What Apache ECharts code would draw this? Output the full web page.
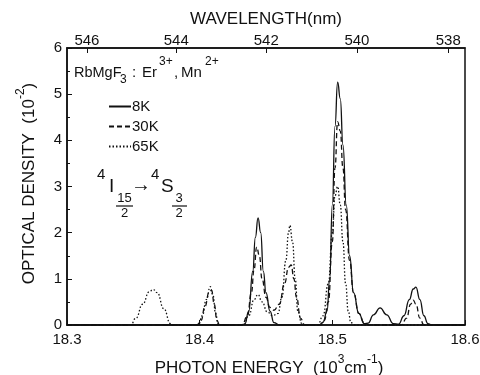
<!DOCTYPE html>
<html>
<head>
<meta charset="utf-8">
<script src="https://cdn.jsdelivr.net/npm/echarts@6/dist/echarts.min.js"></script>
<style>
  html, body { margin: 0; padding: 0; background: #fff; }
  #chart { width: 480px; height: 375px; }
</style>
</head>
<body>
<div id="chart"></div>
<script>
// photon energy (10^3 cm^-1) vs optical density (10^-2)
const energyTicks = [18.3, 18.4, 18.5, 18.6];
const wavelengthTicks = [546, 544, 542, 540, 538];
const odTicks = [0, 1, 2, 3, 4, 5, 6];

const names = ["8K", "30K", "65K"];

const k8 = [
  [18.30, 0], [18.430, 0], [18.434, 0.02], [18.437, 0.3], [18.440, 1.16], [18.442, 1.9],
  [18.444, 2.32], [18.446, 2.0], [18.448, 1.16], [18.450, 0.7], [18.453, 0.3], [18.456, 0.05],
  [18.460, 0], [18.490, 0], [18.493, 0.06], [18.496, 0.3], [18.498, 1.0], [18.500, 2.6],
  [18.502, 4.3], [18.504, 5.26], [18.506, 4.9], [18.508, 3.9], [18.5105, 2.6], [18.513, 1.5],
  [18.516, 0.7], [18.520, 0.25], [18.524, 0.03], [18.527, 0.04], [18.531, 0.22], [18.536, 0.37],
  [18.541, 0.22], [18.546, 0.03], [18.550, 0.02], [18.554, 0.2], [18.558, 0.55], [18.561, 0.78],
  [18.563, 0.82], [18.566, 0.55], [18.569, 0.2], [18.572, 0.03], [18.575, 0], [18.60, 0]
];

const k30 = [
  [18.30, 0], [18.398, 0], [18.401, 0.1], [18.404, 0.4], [18.407, 0.7], [18.409, 0.75],
  [18.411, 0.45], [18.413, 0.1], [18.415, 0], [18.432, 0], [18.436, 0.2], [18.439, 0.7],
  [18.441, 1.2], [18.443, 1.69], [18.445, 1.5], [18.447, 1.0], [18.450, 0.6], [18.453, 0.38],
  [18.456, 0.32], [18.460, 0.45], [18.464, 0.9], [18.467, 1.25], [18.469, 1.3], [18.471, 1.0],
  [18.473, 0.6], [18.476, 0.15], [18.479, 0], [18.491, 0], [18.494, 0.1], [18.497, 0.5],
  [18.500, 1.8], [18.502, 3.4], [18.504, 4.4], [18.506, 4.2], [18.508, 3.4], [18.510, 2.5],
  [18.513, 1.4], [18.516, 0.7], [18.520, 0.25], [18.524, 0.05], [18.528, 0], [18.552, 0],
  [18.556, 0.15], [18.559, 0.45], [18.561, 0.54], [18.563, 0.45], [18.566, 0.15], [18.569, 0],
  [18.60, 0]
];

const k65 = [
  [18.30, 0], [18.348, 0], [18.352, 0.15], [18.357, 0.45], [18.362, 0.72], [18.365, 0.77],
  [18.368, 0.7], [18.373, 0.35], [18.378, 0.03], [18.380, 0], [18.399, 0], [18.402, 0.2],
  [18.405, 0.55], [18.408, 0.83], [18.410, 0.65], [18.412, 0.25], [18.414, 0], [18.433, 0],
  [18.437, 0.2], [18.441, 0.55], [18.444, 0.66], [18.447, 0.5], [18.451, 0.28], [18.455, 0.2],
  [18.459, 0.25], [18.462, 0.6], [18.465, 1.4], [18.467, 2.0], [18.468, 2.16], [18.470, 1.8],
  [18.472, 1.0], [18.474, 0.3], [18.477, 0.03], [18.480, 0], [18.489, 0], [18.493, 0.2],
  [18.497, 0.9], [18.500, 2.0], [18.502, 2.8], [18.504, 3.0], [18.506, 2.6], [18.508, 1.8],
  [18.510, 0.9], [18.512, 0.3], [18.514, 0.05], [18.517, 0], [18.60, 0]
];

const ink = "#111";
const font = "Liberation Sans, Arial, sans-serif";

const chart = echarts.init(document.getElementById("chart"));

function txt(x, y, text, size, align) {
  return {
    type: "text", x: x, y: y, silent: true,
    style: { text: text, fill: ink, font: size + "px " + font, textAlign: align || "left", textVerticalAlign: "middle" }
  };
}
function bar(x1, x2, y) {
  return { type: "line", silent: true, shape: { x1: x1, y1: y, x2: x2, y2: y }, style: { stroke: ink, lineWidth: 1.2 } };
}

const supRich = {
  a: { fontSize: 17, fontFamily: font, color: ink, lineHeight: 23, verticalAlign: "bottom" },
  s: { fontSize: 12, fontFamily: font, color: ink, verticalAlign: "top" }
};

chart.setOption({
  backgroundColor: "#fff",
  animation: false,
  grid: {
    left: 67, right: 15, top: 48, bottom: 50, outerBoundsMode: "none", containLabel: false,
    show: true, borderColor: ink, borderWidth: 1.5
  },
  legend: {
    data: names,
    orient: "vertical",
    left: 103,
    top: 94,
    itemWidth: 22,
    itemHeight: 14,
    itemGap: 5,
    itemStyle: { opacity: 0 },
    textStyle: { fontSize: 15, fontFamily: font, color: ink, padding: [0, 0, 0, -4] }
  },
  xAxis: [
    {
      type: "value", min: energyTicks[0], max: energyTicks[energyTicks.length - 1], interval: 0.1,
      position: "bottom",
      name: "{a|PHOTON ENERGY  (10}{s|3}{a|cm}{s|-1}{a|)}",
      nameLocation: "middle", nameGap: 29,
      nameTextStyle: { rich: supRich, padding: [0, 0, 0, 6] },
      axisLine: { lineStyle: { color: ink, width: 1.5 } },
      axisTick: { inside: true, length: 5, lineStyle: { color: ink } },
      axisLabel: { margin: 7, fontSize: 15, fontFamily: font, color: ink, formatter: v => v.toFixed(1) },
      splitLine: { show: false }
    },
    {
      type: "value", min: energyTicks[0], max: energyTicks[energyTicks.length - 1],
      position: "top",
      name: "WAVELENGTH(nm)",
      nameLocation: "middle", nameGap: 19,
      nameTextStyle: { fontSize: 17, fontFamily: font, color: ink },
      axisLine: { lineStyle: { color: ink, width: 1.5 } },
      axisTick: { inside: true, length: 5, lineStyle: { color: ink }, customValues: wavelengthTicks.map(w => 1e4 / w) },
      axisLabel: {
        margin: 0, fontSize: 15, fontFamily: font, color: ink,
        customValues: wavelengthTicks.map(w => 1e4 / w),
        formatter: v => String(Math.round(1e4 / v))
      },
      splitLine: { show: false }
    }
  ],
  yAxis: {
    type: "value", min: odTicks[0], max: odTicks[odTicks.length - 1], interval: 1,
    name: "{a|OPTICAL DENSITY  (10}{s|-2}{a|)}",
    nameLocation: "middle", nameGap: 29,
    nameTextStyle: { rich: supRich, padding: [0, 0, 0, 6] },
    axisLine: { show: true, lineStyle: { color: ink, width: 1.5 } },
    axisTick: { inside: true, length: 5, lineStyle: { color: ink } },
    minorTick: { show: true, splitNumber: 2, length: 3, lineStyle: { color: ink } },
    axisLabel: { margin: 5, fontSize: 15, fontFamily: font, color: ink },
    splitLine: { show: false }
  },
  series: [
    { name: names[0], type: "line", data: k8, symbol: "none", smooth: 0.5, smoothMonotone: "x",
      lineStyle: { color: ink, width: 1.3, type: "solid" }, itemStyle: { color: ink } },
    { name: names[1], type: "line", data: k30, symbol: "none", smooth: 0.5, smoothMonotone: "x",
      lineStyle: { color: ink, width: 1.3, type: [5, 3] }, itemStyle: { color: ink } },
    { name: names[2], type: "line", data: k65, symbol: "none", smooth: 0.5, smoothMonotone: "x",
      lineStyle: { color: ink, width: 1.3, type: [1.5, 2] }, itemStyle: { color: ink } }
  ],
  graphic: [
    // RbMgF3 : Er3+, Mn2+
    txt(74, 73, "RbMgF", 14.5),
    txt(120, 80, "3", 12),
    txt(132, 73, ":", 15),
    txt(142, 73, "Er", 15),
    txt(159, 62, "3+", 12),
    txt(174, 73, ",", 15),
    txt(181, 73, "Mn", 15),
    txt(205, 62, "2+", 12),
    // 4I15/2 -> 4S3/2
    txt(97, 175, "4", 15),
    txt(109, 187, "I", 19),
    txt(124.5, 198, "15", 13, "center"),
    bar(116, 133, 206),
    txt(124.5, 213, "2", 13, "center"),
    txt(141, 185, "\u2192", 20, "center"),
    txt(151, 175, "4", 15),
    txt(161, 187, "S", 19),
    txt(179, 198, "3", 13, "center"),
    bar(172, 187, 206),
    txt(179, 213, "2", 13, "center")
  ]
});
</script>
</body>
</html>
